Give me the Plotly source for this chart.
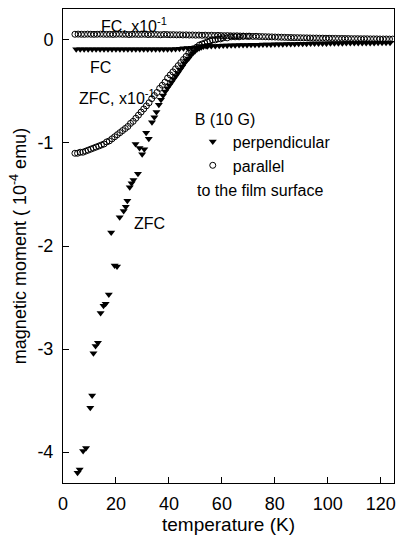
import plotly.graph_objects as go

# ---------------- data ----------------
# perpendicular, ZFC (filled down-triangles)
t_perp_zfc = [5.5, 6.3, 7.6, 8.7, 10.3, 11.0, 11.5, 12.3, 13.2, 14.2, 15.3, 16.1, 17.3, 18.2,
              19.5, 20.4, 21.4, 22.9, 23.7, 24.3, 25.2, 25.9, 26.6, 27.4, 28.3, 28.9, 29.9,
              30.7, 31.4, 32.4, 33.6, 34.5, 35.3, 36.2, 37.0, 37.8, 38.6, 39.4, 40.2, 41.0,
              41.8, 42.6, 43.4, 44.2, 45.0, 45.8, 46.6, 47.4, 48.2, 49.0, 49.8, 50.6, 51.4,
              52.2, 53.0, 54.0, 55.0]
m_perp_zfc = [-4.20, -4.17, -3.99, -3.96, -3.57, -3.45, -3.04, -2.97, -2.94, -2.65, -2.58,
              -2.56, -2.47, -1.87, -2.19, -2.20, -1.72, -1.66, -1.62, -1.56, -1.43, -1.39,
              -1.36, -1.01, -1.30, -1.05, -1.11, -1.06, -0.90, -0.96, -0.80, -0.75, -0.70,
              -0.63, -0.58, -0.54, -0.50, -0.47, -0.44, -0.41, -0.38, -0.35, -0.32, -0.29,
              -0.26, -0.23, -0.20, -0.18, -0.15, -0.13, -0.11, -0.09, -0.08, -0.07, -0.06,
              -0.06, -0.05]

# perpendicular, FC (filled down-triangles)
t_perp_fc = [5, 6.5, 8, 9.5, 11, 12.5, 14, 15.5, 17, 18.5, 20, 21.5, 23, 24.5, 26, 27.5, 29,
             30.5, 32, 33.5, 35, 36.5, 38, 39.5, 41, 42.5, 44, 45.5, 47, 48.5, 50, 51.5, 53,
             54.5, 56, 57.5, 59, 60.5, 62, 63.5, 65, 66.5, 68, 69.5, 71, 72.5, 74, 75.5, 77,
             78.5, 80, 81.5, 83, 84.5, 86, 87.5, 89, 90.5, 92, 93.5, 95, 96.5, 98, 99.5, 101,
             102.5, 104, 105.5, 107, 108.5, 110, 111.5, 113, 114.5, 116, 117.5, 119, 120.5,
             122, 123.5]
m_perp_fc = [-0.09, -0.09, -0.09, -0.09, -0.09, -0.09, -0.09, -0.09, -0.09, -0.09, -0.09,
             -0.09, -0.09, -0.09, -0.09, -0.09, -0.09, -0.09, -0.09, -0.09, -0.09, -0.09,
             -0.09, -0.09, -0.09, -0.088, -0.085, -0.08, -0.078, -0.075, -0.07, -0.068,
             -0.065, -0.062, -0.06, -0.058, -0.056, -0.055, -0.054, -0.053, -0.052, -0.05,
             -0.05, -0.049, -0.048, -0.047, -0.046, -0.045, -0.045, -0.044, -0.043, -0.042,
             -0.041, -0.04, -0.04, -0.039, -0.038, -0.037, -0.037, -0.036, -0.035, -0.035,
             -0.034, -0.034, -0.033, -0.033, -0.032, -0.032, -0.031, -0.031, -0.03, -0.03,
             -0.03, -0.03, -0.029, -0.029, -0.028, -0.028, -0.028, -0.028]

# parallel, ZFC x10^-1 (open circles)
t_par_zfc = [4.5, 5.5, 6.5, 7.5, 8.5, 9.5, 10.5, 11.5, 12.5, 13.5, 14.5, 15.5, 16.5, 17.5,
             18.5, 19.5, 20.5, 21.5, 22.5, 23.5, 24.5, 25.5, 26.5, 27.5, 28.5, 29.5, 30.5,
             31.5, 32.5, 33.5, 34.5, 35.5, 36.5, 37.5, 38.5, 39.5, 40.5, 41.5, 42.5, 43.5,
             44.5, 45.5, 46.5, 47.5, 48.5, 49.5, 50.5, 51.5, 52.5, 53.5, 54.5, 55.5, 56.5,
             57.5, 58.5, 59.5, 60.5, 62.0, 63.5, 65.0, 66.5, 68.0, 70.0]
m_par_zfc = [-1.10, -1.10, -1.09, -1.09, -1.08, -1.07, -1.06, -1.05, -1.04, -1.03, -1.02,
             -1.01, -0.99, -0.98, -0.96, -0.94, -0.92, -0.90, -0.88, -0.86, -0.84, -0.81,
             -0.79, -0.76, -0.73, -0.70, -0.67, -0.64, -0.61, -0.57, -0.54, -0.51, -0.47,
             -0.44, -0.41, -0.37, -0.34, -0.31, -0.28, -0.25, -0.22, -0.19, -0.16, -0.13,
             -0.11, -0.09, -0.07, -0.05, -0.04, -0.03, -0.02, -0.01, 0.00, 0.00, 0.01, 0.01,
             0.02, 0.02, 0.03, 0.03, 0.03, 0.035, 0.035]

# parallel, FC x10^-1 (open circles)
t_par_fc = [4.5, 5.7, 6.9, 8.1, 9.3, 10.5, 11.7, 12.9, 14.1, 15.3, 16.5, 17.7, 18.9, 20.1,
            21.3, 22.5, 23.7, 24.9, 26.1, 27.3, 28.5, 29.7, 30.9, 32.1, 33.3, 34.5, 35.7,
            36.9, 38.1, 39.3, 40.5, 41.7, 42.9, 44.1, 45.3, 46.5, 47.7, 48.9, 50.1, 51.3,
            52.5, 53.7, 54.9, 56.1, 57.3, 58.5, 59.7, 60.9, 62.1, 63.3, 64.5, 65.7, 66.9,
            68.1, 69.3, 70.5, 71.7, 72.9, 74.1, 75.3, 76.5, 77.7, 78.9, 80.1, 81.3, 82.5,
            83.7, 84.9, 86.1, 87.3, 88.5, 89.7, 90.9, 92.1, 93.3, 94.5, 95.7, 96.9, 98.1,
            99.3, 100.5, 101.7, 102.9, 104.1, 105.3, 106.5, 107.7, 108.9, 110.1, 111.3,
            112.5, 113.7, 114.9, 116.1, 117.3, 118.5, 119.7, 120.9, 122.1, 123.3, 124.5]
m_par_fc = [0.055, 0.056, 0.055, 0.054, 0.056, 0.055, 0.054, 0.055, 0.056, 0.055, 0.054,
            0.055, 0.053, 0.055, 0.056, 0.054, 0.055, 0.052, 0.054, 0.055, 0.053, 0.054,
            0.055, 0.052, 0.053, 0.054, 0.052, 0.050, 0.053, 0.052, 0.050, 0.051, 0.049,
            0.050, 0.048, 0.049, 0.047, 0.048, 0.046, 0.047, 0.045, 0.046, 0.044, 0.045,
            0.043, 0.044, 0.042, 0.041, 0.042, 0.040, 0.039, 0.040, 0.038, 0.037, 0.036,
            0.036, 0.034, 0.035, 0.033, 0.032, 0.031, 0.030, 0.029, 0.028, 0.027, 0.026,
            0.025, 0.024, 0.023, 0.022, 0.022, 0.021, 0.020, 0.020, 0.019, 0.018, 0.018,
            0.017, 0.017, 0.016, 0.016, 0.015, 0.015, 0.014, 0.014, 0.013, 0.013, 0.012,
            0.012, 0.012, 0.011, 0.011, 0.011, 0.010, 0.010, 0.010, 0.009, 0.009, 0.009,
            0.008, 0.008]

x_ticks = [0, 20, 40, 60, 80, 100, 120]
y_ticks = [0, -1, -2, -3, -4]

FONT = "Arial, 'Liberation Sans', Helvetica, sans-serif"

fig = go.Figure()

tri = dict(symbol="triangle-down", size=7, color="black", line=dict(width=0))
circ = dict(symbol="circle-open", size=6, color="black", line=dict(width=1, color="black"))

fig.add_trace(go.Scatter(x=t_perp_fc, y=m_perp_fc, mode="markers", marker=tri,
                         name="perpendicular", showlegend=True, legendrank=1))
fig.add_trace(go.Scatter(x=t_perp_zfc, y=m_perp_zfc, mode="markers", marker=tri,
                         showlegend=False))
fig.add_trace(go.Scatter(x=t_par_zfc, y=m_par_zfc, mode="markers", marker=circ,
                         showlegend=False))
fig.add_trace(go.Scatter(x=t_par_fc, y=m_par_fc, mode="markers", marker=circ,
                         name="parallel", showlegend=True, legendrank=2))

annots = [
    dict(text="FC, x10<sup>-1</sup>", x=13.5, y=0.14),
    dict(text="FC", x=9.4, y=-0.27),
    dict(text="ZFC, x10<sup>-1</sup>", x=5.3, y=-0.55),
    dict(text="ZFC", x=25.9, y=-1.78),
    dict(text="to the film surface", x=50.0, y=-1.46),
]
for a in annots:
    fig.add_annotation(text=a["text"], x=a["x"], y=a["y"], xref="x", yref="y",
                       xanchor="left", yanchor="middle", showarrow=False,
                       font=dict(family=FONT, size=16, color="black"))

fig.update_layout(
    width=401, height=536,
    margin=dict(l=63, r=5, t=9, b=48),
    paper_bgcolor="white", plot_bgcolor="white",
    font=dict(family=FONT, color="black"),
    showlegend=True,
    legend=dict(
        x=0.392, y=0.80, xanchor="left", yanchor="top",
        bgcolor="rgba(0,0,0,0)", borderwidth=0,
        title=dict(text="B (10 G)", font=dict(family=FONT, size=16, color="black")),
        font=dict(family=FONT, size=16, color="black"),
        itemwidth=30,
    ),
)

fig.update_xaxes(
    range=[0, 125], tickvals=x_ticks, ticks="inside", ticklen=6, tickwidth=1,
    tickcolor="black", showline=True, linecolor="black", linewidth=1, mirror=True,
    showgrid=False, zeroline=False, tickfont=dict(family=FONT, size=18, color="black"),
    title=dict(text="temperature (K)", font=dict(family=FONT, size=19, color="black"),
               standoff=4),
    ticklabelstandoff=4,
)
fig.update_yaxes(
    range=[-4.3, 0.3], tickvals=y_ticks, ticktext=[str(v) for v in y_ticks],
    ticks="inside", ticklen=6, tickwidth=1,
    tickcolor="black", showline=True, linecolor="black", linewidth=1, mirror=True,
    showgrid=False, zeroline=False, tickfont=dict(family=FONT, size=18, color="black"),
    title=dict(text="magnetic moment ( 10<sup>-4</sup> emu)",
               font=dict(family=FONT, size=18, color="black"), standoff=6),
    ticklabelstandoff=5,
)

fig.write_html("out.html", config={"displayModeBar": False},
               post_script="document.body.style.margin='0';document.body.style.overflow='hidden';")
